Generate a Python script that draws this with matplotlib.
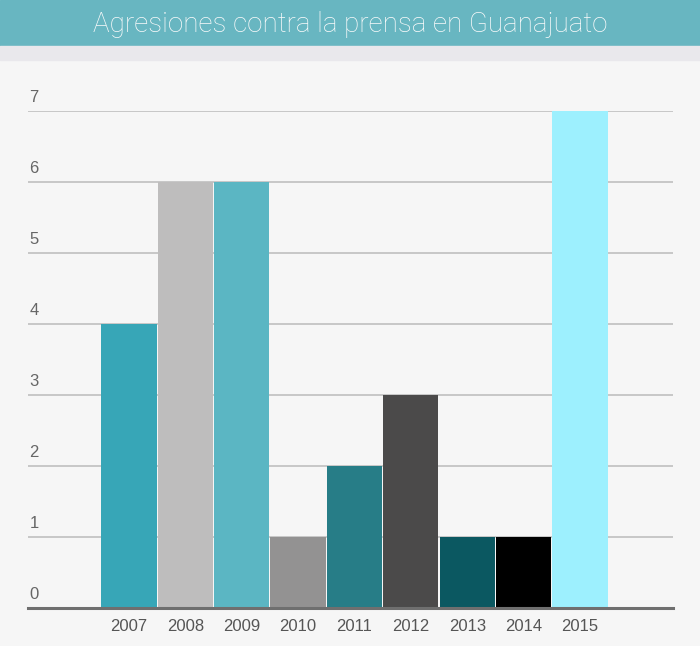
import matplotlib.pyplot as plt
from matplotlib.patches import Rectangle

years = ['2007', '2008', '2009', '2010', '2011', '2012', '2013', '2014', '2015']
values = [4, 6, 6, 1, 2, 3, 1, 1, 7]
colors = ['#37a6b7', '#bebdbd', '#5bb6c3', '#939292', '#277d87',
          '#4b4a4a', '#0b5861', '#000000', '#9df0fe']
yticks = [0, 1, 2, 3, 4, 5, 6, 7]

W, H = 700, 646
fig = plt.figure(figsize=(W / 100, H / 100), dpi=100)
fig.patch.set_facecolor('#f6f6f6')

# title bar and the gray strip under it
fig.patches.append(Rectangle((0, (H - 45) / H), 1, 45 / H, transform=fig.transFigure,
                             color='#68b6c1', zorder=0))
fig.patches.append(Rectangle((0, (H - 60) / H), 1, 14 / H, transform=fig.transFigure,
                             color='#e9e8ec', zorder=0))
fig.text(0.5, (H - 24) / H, 'Agresiones contra la prensa en Guanajuato',
         ha='center', va='center', color='#fbfbfb', fontsize=20,
         family='Roboto', fontweight='light')

left, right, bottom, top = 28, 673, 608, 111
ax = fig.add_axes([left / W, (H - bottom) / H, (right - left) / W, (bottom - top) / H])
ax.set_facecolor('none')
for s in ax.spines.values():
    s.set_visible(False)

x = list(range(len(years)))
ax.bar(x, values, width=0.98, color=colors, zorder=2)
ax.set_xlim(-1.79, 9.65)
ax.set_ylim(0, 7)

for v in yticks[1:]:
    ax.axhline(v, color='#c4c4c4', lw=1.3, zorder=1)
ax.axhline(0, color='#6f6f6f', lw=2.2, zorder=3, clip_on=False)

ax.set_yticks([])
ax.set_xticks(x)
ax.set_xticklabels(years, family=['Liberation Sans', 'DejaVu Sans'],
                   fontsize=12, color='#555555')
ax.tick_params(axis='x', length=0, pad=8)

for v in yticks:
    ax.annotate(str(v), xy=(0, v), xycoords=('axes fraction', 'data'),
                xytext=(1, 4), textcoords='offset points', ha='left', va='bottom',
                fontsize=12, color='#666666',
                family=['Liberation Sans', 'DejaVu Sans'])

plt.savefig('out.png', dpi=100, facecolor=fig.get_facecolor())
